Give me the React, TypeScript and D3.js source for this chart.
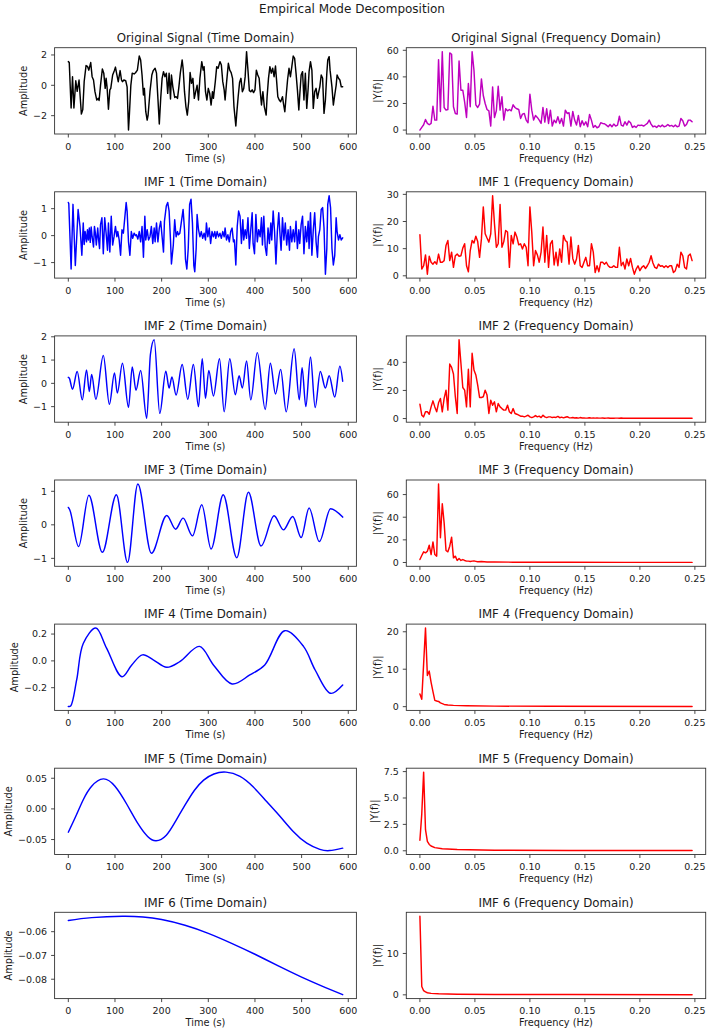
import React from 'react';
import * as d3 from 'd3';

type Pt = [number, number];

// ---------- time-domain series: [time (s), amplitude] ----------
const originalSignal: Pt[] = [
  [0,1.56],[2,1.5],[6,-1.5],[9,0.57],[12,-1.5],[16,0.3],[19,-0.4],[23,0.35],[28,-1.9],[31,-1.6],[34,0.25],[38,1.3],[41,1.25],[44,1.0],[48,1.5],[51,0.57],[54,0.35],[57,-0.4],[61,-0.97],[64,-0.86],[66,-1.0],[69,0],[73,1.08],[76,0.8],[79,-0.2],[81,0.46],[83,-0.1],[86,-1.58],[89,-0.3],[91,-0.2],[95,0.68],[99,1.0],[101,1.2],[104,0.7],[107,0.24],[111,0.97],[114,0.35],[116,0.24],[119,0.35],[123,0.3],[126,-0.1],[129,-2.95],[131,-1.85],[134,0],[137,0.8],[141,0.75],[144,0.83],[148,1.0],[152,1.93],[155,1.67],[158,0.68],[161,-0.64],[163,-0.2],[166,-1.74],[169,-2.29],[171,-1.96],[175,-0.42],[179,0.68],[182,0.97],[186,1.12],[189,0.8],[192,-0.86],[195,-2.55],[198,-0.86],[201,0.46],[204,0.9],[207,0.57],[210,0.8],[213,-0.53],[216,0.8],[219,-0.9],[221,0.68],[224,-0.1],[228,-0.8],[231,-0.75],[234,-0.86],[237,-0.1],[240,0.8],[244,1.67],[246,1.12],[249,-0.42],[252,-1.4],[255,-1.96],[258,-1.08],[261,0.84],[264,0.13],[267,0.46],[270,-0.86],[273,-0.42],[276,0],[279,-0.97],[282,0.46],[286,1.56],[289,1.0],[291,1.23],[294,-0.42],[297,-0.97],[300,-0.2],[303,-0.53],[306,-1.3],[309,-0.42],[311,-0.86],[315,0.24],[318,1.23],[321,1.12],[325,1.56],[328,1.34],[331,0.24],[334,-0.3],[336,-0.97],[339,0.13],[343,1.45],[346,1.0],[349,0.84],[352,0.46],[355,-1.4],[359,-2.68],[361,-1.85],[364,-0.75],[367,0.18],[370,0.46],[373,-0.42],[376,-0.2],[379,0.57],[382,2.22],[385,1.0],[388,-0.35],[391,-0.42],[394,-0.3],[397,-0.48],[400,-0.3],[403,1.0],[406,0.68],[409,0.46],[411,-0.3],[414,-1.3],[417,-0.42],[420,-1.4],[424,-1.96],[426,-0.75],[429,0.46],[432,1.23],[435,0.8],[438,1.12],[441,0.57],[444,1.27],[446,0.46],[449,-0.75],[452,-0.97],[455,-1.08],[459,-0.75],[461,-1.19],[464,-1.74],[467,-0.64],[470,0.4],[473,1.12],[476,0.57],[479,1.23],[482,1.93],[485,1.78],[488,0.8],[491,-0.3],[494,-1.63],[496,-0.64],[499,0.68],[502,0.9],[505,-0.97],[508,0.8],[511,-1.52],[514,-0.2],[516,0.9],[519,1.56],[522,1.0],[525,-1.52],[528,-0.42],[531,-0.2],[534,-0.86],[536,-0.53],[539,-0.1],[542,0.68],[545,0.46],[548,-1.85],[551,-0.97],[554,0.8],[556,1.67],[559,1.89],[561,1.0],[565,-0.1],[568,-1.3],[571,-0.64],[574,0],[576,0.68],[579,0.46],[582,0.35],[585,-0.1],[588,-0.1],
];

const imf1: Pt[] = [
  [0,1.23],[1,1.19],[6,-1.24],[10,1.16],[15,-1.11],[21,0.97],[25,0.34],[29,-0.73],[32,0.47],[34,-0.33],[36,0.15],[39,-0.23],[41,0.22],[43,-0.16],[45,0.28],[47,-0.25],[49,0.32],[51,-0.04],[54,-0.42],[56,0.34],[58,0.09],[60,-0.35],[63,0.28],[65,-0.16],[67,-0.48],[69,0.41],[72,0.66],[75,-0.67],[78,0.66],[81,0.09],[84,-0.54],[86,0.47],[89,-0.61],[92,0.72],[95,-0.35],[98,-0.04],[101,0.34],[104,-0.04],[106,0.15],[109,-0.16],[112,-0.73],[115,0.22],[118,0.09],[121,0.66],[124,1.23],[126,0.91],[129,-0.23],[132,-0.73],[135,0.15],[138,-0.1],[141,0.09],[144,0],[146,0.03],[149,-0.13],[152,0.15],[155,-0.23],[158,0.34],[161,-0.8],[164,0.72],[166,-0.16],[169,0.22],[172,-0.16],[175,-0.04],[178,0.34],[181,-0.29],[184,0.28],[186,-0.23],[189,0.47],[192,-0.23],[195,0.28],[198,0.53],[201,-0.04],[204,-0.61],[206,0.53],[210,1.1],[213,1.23],[216,0.91],[219,-0.16],[221,-1.05],[225,-0.35],[228,0.59],[231,-0.04],[234,0.15],[236,0.03],[239,0.09],[242,0.47],[246,0.97],[249,0.22],[251,-0.86],[254,-1.24],[257,-0.48],[260,1.16],[263,1.35],[266,0.47],[269,-1.11],[271,-1.34],[274,-0.48],[276,0.78],[279,0.22],[282,-0.04],[285,0.15],[288,-0.1],[291,0.09],[294,-0.16],[296,0.47],[299,-0.04],[302,0.28],[305,-0.29],[308,0.15],[311,-0.04],[314,0.15],[316,-0.1],[319,0.15],[322,-0.04],[325,0.09],[328,-0.1],[331,0.15],[334,-0.04],[336,0.28],[339,-0.16],[342,0.03],[345,-0.23],[348,0.15],[351,0.28],[354,-0.23],[356,-0.16],[359,-1.09],[362,0.34],[365,0.91],[368,0.72],[371,-0.29],[374,0.59],[376,-0.16],[379,0.22],[382,-0.1],[385,0.66],[388,-0.48],[391,0.22],[394,0.85],[396,-0.29],[399,-0.67],[402,0.78],[405,-0.23],[408,0.22],[411,-0.04],[414,0.66],[416,-0.35],[419,0.72],[422,-0.42],[425,-0.73],[428,0.28],[431,-0.29],[434,0.47],[436,-0.16],[439,0.91],[442,0.15],[445,-1.05],[448,0.15],[451,0.85],[454,-0.04],[456,-0.54],[459,0.66],[462,-0.16],[465,0.47],[468,-0.35],[471,0.22],[474,-0.54],[476,0.34],[479,-0.23],[482,0.22],[485,-0.23],[488,0.53],[491,-0.48],[494,0.22],[496,-0.29],[499,0.41],[502,0.72],[505,-0.67],[508,0.34],[511,-0.23],[514,0.53],[516,-0.48],[519,0.85],[522,-0.73],[525,0.22],[528,0.85],[531,-0.23],[534,-0.8],[536,-0.04],[539,0.22],[542,0.97],[545,1.04],[548,0.28],[551,-1.43],[554,-0.48],[556,1.16],[559,1.48],[562,1.04],[565,-0.48],[568,-1.09],[571,-0.73],[574,0.66],[576,0.15],[579,-0.16],[582,0.03],[585,-0.16],[588,-0.08],
];

const imf2: Pt[] = [
  [0,0.26],[2,0.23],[9,-0.25],[19,0.51],[30,-0.71],[39,0.58],[45,-0.35],[50,0.38],[59,-0.68],[75,1.2],[88,-0.9],[99,0.45],[105,-0.42],[116,0.86],[129,-1.03],[137,0.7],[145,-0.3],[155,0.55],[168,-1.5],[176,1.25],[184,1.87],[196,-1.29],[209,0.52],[216,-0.2],[222,0.27],[231,-0.5],[244,0.81],[256,-0.68],[268,0.81],[279,-1.0],[287,1.06],[294,-0.64],[301,0.55],[311,-0.54],[324,1.06],[334,-1.22],[346,1.06],[358,-0.49],[366,0.33],[373,-0.2],[382,0.96],[391,-0.71],[405,1.32],[422,-1.12],[433,0.86],[444,-0.46],[455,0.6],[467,-1.22],[484,1.49],[495,-0.71],[501,0.67],[509,-1.0],[519,1.13],[529,-1.04],[540,0.51],[551,-0.2],[559,0.33],[571,-0.59],[582,0.74],[588,0.09],
];

const imf3: Pt[] = [
  [0,0.52],[3,0.45],[22,-0.65],[44,0.88],[73,-0.82],[103,0.9],[127,-1.12],[149,1.22],[178,-0.85],[211,0.28],[230,-0.13],[246,0.2],[266,-0.33],[286,0.6],[306,-0.72],[332,0.9],[361,-0.98],[386,0.97],[413,-0.63],[441,0.27],[461,-0.15],[481,0.25],[499,-0.38],[516,0.5],[538,-0.5],[562,0.48],[588,0.23],
];

const imf4: Pt[] = [
  [0,-0.34],[5,-0.337],[18,-0.14],[32,0.13],[59,0.245],[82,0.095],[115,-0.118],[136,-0.03],[159,0.045],[182,0.008],[211,-0.048],[239,-0.005],[281,0.108],[311,-0.03],[351,-0.172],[389,-0.105],[421,-0.03],[464,0.225],[504,0.108],[529,-0.068],[562,-0.242],[588,-0.18],
];

const imf5: Pt[] = [
  [0,-0.038],[16,-0.012],[32,0.015],[50,0.037],[75,0.049],[100,0.037],[125,0.008],[150,-0.025],[170,-0.045],[188,-0.052],[210,-0.043],[230,-0.02],[250,0.006],[270,0.03],[290,0.047],[312,0.057],[338,0.06],[368,0.053],[396,0.036],[425,0.012],[454,-0.0125],[482,-0.037],[511,-0.056],[539,-0.066],[560,-0.068],[588,-0.064],
];

const imf6: Pt[] = [
  [0,-0.0553],[50,-0.0541],[116,-0.0535],[160,-0.0538],[200,-0.0549],[250,-0.0573],[300,-0.0607],[350,-0.0649],[400,-0.0695],[450,-0.0744],[500,-0.0791],[550,-0.0834],[588,-0.0865],
];

// ---------- spectra: |Y(f)| per FFT bin ----------
const sampleRate = 0.5; // Hz
const sampleCount = 295;
const binWidth = sampleRate / sampleCount;
const lastBin = 146;

const originalSpectrum: number[] = [
  0,2,4,8,5,4,5,18,7.5,7.5,
  53,14,59,17,15,15.5,58,57,17.5,12.5,
  12,52,30,30,21,9.5,35,17.5,59,45,
  19,17,19.5,38.5,26,20,15.5,14.5,3,32.5,
  9.5,14.5,33,15,25,7.5,16,14.5,15.5,14.5,
  19,17,16,15.5,8.75,12,12.5,7.5,5.5,27,
  15,7.5,11,9.5,7.5,5,17,6,16,5,
  15,3,7.5,5.5,10,5,8.75,3,15,12.5,
  13,3,14,7.5,3.75,11,2.5,7,3.75,6.25,
  2.5,11.75,7.5,2,3.5,1.75,2.5,5.5,5,4.75,
  3.75,2.5,4.25,2.5,4.5,3,3.75,10.5,3.75,3,
  6.25,3.75,6.75,5.5,2,3,2,3.75,3.5,3.75,
  3,4,5,7.5,4.5,2.5,3,2,3.5,2.5,
  3.75,2.5,3,4.25,3,3.5,2.5,3.75,2.5,3,
  8.75,7,3,4.25,7.5,7.5,6.25,
];

const imf1Spectrum: number[] = [
  15.1,2.5,3.7,7.7,0.6,7.2,5,4.3,5.2,4.3,
  8,5,5,5.6,11.2,13,5.6,8.7,3.1,7.4,
  8,7.2,7.4,10.2,11.8,3.7,1.5,9.3,13,12.1,
  14.6,12.6,6.8,13.6,25.4,15.5,13.9,12.4,15.5,29.5,
  19.2,10.5,11.8,26.3,10.5,12.6,16.7,16.1,3.1,14.9,
  11.8,16.1,14.3,11.4,11.8,9.9,11.8,10.5,3.7,25.4,
  16.1,3.7,9.3,7.7,5,8.7,18,5,14.9,3.1,
  11.8,13,4,8.7,3.7,9.9,5,14.9,13,12.4,
  4.3,14.3,6.4,4.3,6.2,11.2,3.7,3.1,5,6.8,
  3.7,3.7,11.8,8.7,1.2,3.7,1.5,5,5,4.3,
  5,3.7,3.1,3.1,3.7,3.1,3.1,10.5,3.7,5,
  2.5,6.2,3.7,6.4,3.1,0.6,2.5,3.7,1.9,3.1,
  3.7,2.7,3.7,5,7.4,4.7,3.1,2.7,4.3,3.5,
  3.7,3.1,3.7,3.1,3.7,3.7,1.2,1.9,4.3,3.1,
  8.7,7.4,3.1,2.5,7.4,8,5.6,
];

const imf2Spectrum: number[] = [
  10.2,2.4,1.2,4.8,4.8,3.1,8.3,12.6,8.3,4.8,
  11.2,14.3,4.8,14.3,20.2,6,38.8,36.4,31.7,15.5,
  3.6,56,39.3,22.1,20.2,8.3,35,8.3,46.4,34.5,
  31,23.8,15,15,15.5,20.2,16.7,3.6,13.1,9.5,
  11.9,4.8,10.7,8.3,7.1,6,6,9.5,4.8,3.6,
  7.1,3.6,3.1,2.4,1.7,1.7,1.2,1.7,2.4,1.2,
  0.7,1.2,2.1,1.2,1.7,0.7,2.4,1.2,0.7,1.2,
  1.2,0.7,1,0.8,1.5,0.6,1.0,0.5,0.9,1.3,
  0.6,0.5,0.8,0.4,0.6,0.3,0.7,0.4,0.5,0.3,
  0.4,0.6,0.3,0.4,0.3,0.5,0.3,0.3,0.4,0.2,
  0.3,0.4,0.2,0.3,0.2,0.3,0.3,0.2,0.4,0.2,
  0.2,0.3,0.2,0.2,0.3,0.2,0.2,0.2,0.3,0.2,
  0.2,0.2,0.3,0.2,0.2,0.2,0.2,0.3,0.2,0.2,
  0.2,0.2,0.2,0.2,0.2,0.2,0.2,0.2,0.2,0.2,
  0.2,0.2,0.2,0.2,0.2,0.2,0.2,
];

// [bin, |Y|] where the spectrum is smooth enough to list sparsely
const imf3Spectrum: Pt[] = [
  [0,2.6],[1,6.2],[2,9.4],[3,8.5],[4,10],[5,15.3],[6,7],[7,18.2],[8,7],[9,5.6],[10,69.4],[11,21.8],[12,51.8],[13,35],[14,10.6],[15,9.4],[16,14.4],[17,22.4],[18,4.1],[19,5.6],[20,1.8],[21,3.5],[22,1.8],[23,2.6],[24,1.8],[25,1.2],[26,1.2],[27,0.9],[28,1.2],[29,1.4],[30,1.0],[31,0.6],[33,0.8],[36,0.5],[40,0.4],[50,0.3],[60,0.2],[80,0.15],[110,0.1],[146,0.1],
];
const imf4Spectrum: Pt[] = [
  [0,3.4],[1,2.0],[2,11.5],[3,21],[4,8.3],[5,9.5],[6,6.5],[7,4.0],[8,1.7],[9,1.5],[10,1.4],[11,1.0],[12,0.8],[13,0.6],[15,0.45],[18,0.35],[25,0.25],[40,0.15],[70,0.1],[146,0.05],
];
const imf5Spectrum: Pt[] = [
  [0,1.0],[1,3.5],[2,7.45],[3,2.0],[4,0.9],[5,0.6],[6,0.45],[8,0.3],[12,0.2],[20,0.12],[40,0.06],[80,0.03],[146,0.02],
];
const imf6Spectrum: Pt[] = [
  [0,19.0],[1,2.0],[2,1.0],[3,0.7],[4,0.5],[6,0.35],[10,0.25],[20,0.15],[40,0.1],[80,0.06],[146,0.04],
];

// ---------- axes ----------
const timeSpan: [number, number] = [0, 588];
const freqSpan: [number, number] = [0, lastBin * binWidth];
const timeTicks = [0, 100, 200, 300, 400, 500, 600];
const freqTicks = [0, 0.05, 0.1, 0.15, 0.2, 0.25];

const binned = (values: number[]): Pt[] => values.map((v, k) => [k * binWidth, v]);
const sparse = (pairs: Pt[]): Pt[] => pairs.map(([k, v]) => [k * binWidth, v]);

type Kind = 'time' | 'freq';
type Smoothing = 'linear' | 'extrema' | 'catmull' | 'natural';
interface PanelSpec {
  title: string;
  kind: Kind;
  data: Pt[];
  color: string;
  yTicks: number[];
  yFmt: string;
  smoothing?: Smoothing;
}

const BLACK = '#000000', BLUE = '#0000ff', MAGENTA = '#bf00bf', RED = '#ff0000';

const panels: PanelSpec[] = [
  { title: 'Original Signal (Time Domain)', kind: 'time', data: originalSignal, color: BLACK, yTicks: [-2, 0, 2], yFmt: 'd' },
  { title: 'Original Signal (Frequency Domain)', kind: 'freq', data: binned(originalSpectrum), color: MAGENTA, yTicks: [0, 20, 40, 60], yFmt: 'd' },
  { title: 'IMF 1 (Time Domain)', kind: 'time', data: imf1, color: BLUE, yTicks: [-1, 0, 1], yFmt: 'd' },
  { title: 'IMF 1 (Frequency Domain)', kind: 'freq', data: binned(imf1Spectrum), color: RED, yTicks: [0, 10, 20, 30], yFmt: 'd' },
  { title: 'IMF 2 (Time Domain)', kind: 'time', data: imf2, color: BLUE, yTicks: [-1, 0, 1, 2], yFmt: 'd', smoothing: 'extrema' },
  { title: 'IMF 2 (Frequency Domain)', kind: 'freq', data: binned(imf2Spectrum), color: RED, yTicks: [0, 20, 40], yFmt: 'd' },
  { title: 'IMF 3 (Time Domain)', kind: 'time', data: imf3, color: BLUE, yTicks: [-1, 0, 1], yFmt: 'd', smoothing: 'extrema' },
  { title: 'IMF 3 (Frequency Domain)', kind: 'freq', data: sparse(imf3Spectrum), color: RED, yTicks: [0, 20, 40, 60], yFmt: 'd' },
  { title: 'IMF 4 (Time Domain)', kind: 'time', data: imf4, color: BLUE, yTicks: [-0.2, 0, 0.2], yFmt: '.1f', smoothing: 'catmull' },
  { title: 'IMF 4 (Frequency Domain)', kind: 'freq', data: sparse(imf4Spectrum), color: RED, yTicks: [0, 10, 20], yFmt: 'd' },
  { title: 'IMF 5 (Time Domain)', kind: 'time', data: imf5, color: BLUE, yTicks: [-0.05, 0, 0.05], yFmt: '.2f', smoothing: 'natural' },
  { title: 'IMF 5 (Frequency Domain)', kind: 'freq', data: sparse(imf5Spectrum), color: RED, yTicks: [0, 2.5, 5, 7.5], yFmt: '.1f' },
  { title: 'IMF 6 (Time Domain)', kind: 'time', data: imf6, color: BLUE, yTicks: [-0.08, -0.07, -0.06], yFmt: '.2f', smoothing: 'natural' },
  { title: 'IMF 6 (Frequency Domain)', kind: 'freq', data: sparse(imf6Spectrum), color: RED, yTicks: [0, 10], yFmt: 'd' },
];

// ---------- layout ----------
const WIDTH = 709;
const HEIGHT = 1032;
const FONT = '"DejaVu Sans", Verdana, sans-serif';
const TEXT = '#1a1a1a';
const SPINE = '#333333';
const TICK_FS = 9.5;
const LABEL_FS = 9.8;
const TITLE_FS = 11.8;
const colX = [54.6, 406.3];
const colW = [301.8, 299.4];
const rowTop0 = 47.7;
const rowStep = 144.1;
const rowH = 86.3;
const TICK_LEN = 3.5;

const glyphW: Record<string, number> = { '.': 0.318, '\u2212': 0.838, '-': 0.361 };
function approxWidth(s: string, size: number) {
  let w = 0;
  for (const c of s) w += /[0-9]/.test(c) ? 0.636 : glyphW[c] ?? 0.6;
  return w * size;
}

const padded = ([a, b]: [number, number]): [number, number] => {
  const m = (b - a) * 0.05;
  return [a - m, b + m];
};

const curveFor = (s?: Smoothing) => {
  switch (s) {
    case 'extrema':
      return d3.curveMonotoneX;
    case 'catmull':
      return d3.curveCatmullRom.alpha(0.5);
    case 'natural':
      return d3.curveNatural;
    default:
      return d3.curveLinear;
  }
};

function Panel({ spec, left, top, width, height }: { spec: PanelSpec; left: number; top: number; width: number; height: number }) {
  const isTime = spec.kind === 'time';
  const xs = d3.scaleLinear().domain(padded(isTime ? timeSpan : freqSpan)).range([left, left + width]);
  const ext = d3.extent(spec.data, (d) => d[1]) as [number, number];
  const ys = d3.scaleLinear().domain(padded(ext)).range([top + height, top]);
  const line = d3
    .line<Pt>()
    .x((d) => xs(d[0]))
    .y((d) => ys(d[1]))
    .curve(curveFor(spec.smoothing));
  const xTicks = isTime ? timeTicks : freqTicks;
  const xFmt = d3.format(isTime ? 'd' : '.2f');
  const yFmt = d3.format(spec.yFmt);
  const [yLo, yHi] = ys.domain();
  const yTicks = spec.yTicks.filter((t) => t >= yLo && t <= yHi);
  const yLabels = yTicks.map((t) => yFmt(t));
  const maxW = Math.max(...yLabels.map((s) => approxWidth(s, TICK_FS)));
  const yLabelX = left - TICK_LEN - 4 - maxW - 4 - 5.5;
  const bottom = top + height;
  const cx = left + width / 2;
  const cy = top + height / 2;

  return (
    <g>
      <path d={line(spec.data) ?? ''} fill="none" stroke={spec.color} strokeWidth={1.45} strokeLinejoin="round" strokeLinecap="round" />
      <rect x={left} y={top} width={width} height={height} fill="none" stroke={SPINE} strokeWidth={0.9} />
      {xTicks.map((t) => (
        <g key={`x${t}`}>
          <line x1={xs(t)} x2={xs(t)} y1={bottom} y2={bottom + TICK_LEN} stroke={SPINE} strokeWidth={0.9} />
          <text x={xs(t)} y={bottom + 15.5} textAnchor="middle" fontSize={TICK_FS} fill={TEXT}>
            {xFmt(t)}
          </text>
        </g>
      ))}
      {yTicks.map((t, i) => (
        <g key={`y${t}`}>
          <line x1={left - TICK_LEN} x2={left} y1={ys(t)} y2={ys(t)} stroke={SPINE} strokeWidth={0.9} />
          <text x={left - TICK_LEN - 4} y={ys(t)} dy="0.35em" textAnchor="end" fontSize={TICK_FS} fill={TEXT}>
            {yLabels[i]}
          </text>
        </g>
      ))}
      <text x={cx} y={top - 5.7} textAnchor="middle" fontSize={TITLE_FS} fill={TEXT}>
        {spec.title}
      </text>
      <text x={cx} y={bottom + 27.5} textAnchor="middle" fontSize={LABEL_FS} fill={TEXT}>
        {isTime ? 'Time (s)' : 'Frequency (Hz)'}
      </text>
      <text transform={`translate(${yLabelX},${cy}) rotate(-90)`} textAnchor="middle" dominantBaseline="central" fontSize={LABEL_FS} fill={TEXT}>
        {isTime ? 'Amplitude' : '|Y(f)|'}
      </text>
    </g>
  );
}

export default function App() {
  return (
    <svg
      width={WIDTH}
      height={HEIGHT}
      viewBox={`0 0 ${WIDTH} ${HEIGHT}`}
      style={{ position: 'absolute', left: 0, top: 0, background: '#ffffff', fontFamily: FONT }}
    >
      <rect x={0} y={0} width={WIDTH} height={HEIGHT} fill="#ffffff" />
      <text x={352} y={12.5} textAnchor="middle" fontSize={12} fill={TEXT}>
        Empirical Mode Decomposition
      </text>
      {panels.map((spec, i) => {
        const row = Math.floor(i / 2);
        const col = i % 2;
        return (
          <Panel
            key={spec.title}
            spec={spec}
            left={colX[col]}
            top={rowTop0 + row * rowStep}
            width={colW[col]}
            height={rowH}
          />
        );
      })}
    </svg>
  );
}
